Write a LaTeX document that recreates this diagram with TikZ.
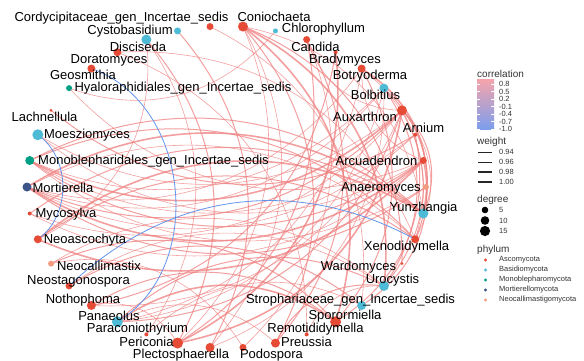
\documentclass[tikz,border=0pt]{standalone}
\usepackage{fontspec}
\setmainfont{Liberation Sans}
\pgfdeclarelayer{bg}
\pgfsetlayers{bg,main}
\definecolor{cAsc}{HTML}{E64B35}
\definecolor{cBas}{HTML}{4DBBD5}
\definecolor{cMon}{HTML}{00A087}
\definecolor{cMor}{HTML}{3C5488}
\definecolor{cNeo}{HTML}{F39B7F}
\definecolor{ePos}{HTML}{F08080}
\definecolor{eNeg}{HTML}{6495ED}
\definecolor{legtxt}{HTML}{333333}
\tikzset{
  dot/.style={circle,inner sep=0pt,draw=none},
  lab/.style={inner sep=0pt,font=\fontsize{13}{13}\selectfont,text=black},
  ltitle/.style={inner sep=0pt,anchor=west,font=\fontsize{10}{10}\selectfont,text=legtxt},
  ltick/.style={inner sep=0pt,anchor=west,font=\fontsize{7.5}{7.5}\selectfont,text=legtxt},
  poslink/.style={draw=ePos,draw opacity=0.75},
  neglink/.style={draw=eNeg,line width=0.8pt},
  ew1/.style={line width=0.6pt},
  ew2/.style={line width=1.0pt},
  ew3/.style={line width=1.6pt},
}
\begin{document}
\begin{tikzpicture}[x=1pt,y=1pt]
\useasboundingbox (0,0) rectangle (584,-360);
% nodes on the ellipse
\foreach \nm/\col/\r [count=\i from 0] in {
 Anae/cNeo/3, Arcu/cAsc/3.5, Arni/cAsc/2, Auxa/cAsc/5, Bolb/cBas/4.5, Botr/cAsc/4,
 Brad/cAsc/2, Cand/cAsc/3.5, Chlo/cBas/2.5, Coni/cAsc/5, Cord/cAsc/3.5, Cyst/cBas/3.5,
 Disc/cBas/5, Dora/cAsc/4, Geos/cAsc/4, Hyal/cMon/3, Lach/cAsc/1.5, Moes/cBas/5.5,
 Mono/cMon/4.5, Mort/cMor/4.5, Myco/cAsc/2, Neoa/cAsc/4, Neoc/cNeo/3, Neos/cAsc/3.5,
 Noth/cAsc/4.5, Pana/cBas/5.5, Para/cAsc/2, Peri/cAsc/5.5, Plec/cAsc/4.5, Podo/cAsc/3.5,
 Preu/cAsc/4.5, Remo/cAsc/2, Spor/cAsc/5.5, Stro/cBas/4.5, Uroc/cBas/5, Ward/cAsc/1.5,
 Xeno/cAsc/4, Yunz/cBas/5}{
  \pgfmathsetmacro\ang{\i*360/38}
  \node[dot,fill=\col,minimum size=2*\r] (\nm) at ({226.5+199.5*cos(\ang)},{-187+161*sin(\ang)}) {};
}
% edges
\begin{pgfonlayer}{bg}
\fill[white] (0,0) rectangle (584,-360);
\foreach \a/\b/\w in {
 Anae/Mono/ew1, Anae/Mort/ew2, Arcu/Mono/ew2, Arcu/Mort/ew3, Arcu/Myco/ew1, Arcu/Neoa/ew3,
 Arcu/Moes/ew1, Arcu/Botr/ew1, Arcu/Stro/ew2, Arcu/Hyal/ew1, Arni/Lach/ew2, Arni/Spor/ew2,
 Arni/Mort/ew1, Arni/Mono/ew1, Auxa/Mono/ew3, Auxa/Mort/ew2, Auxa/Peri/ew3, Auxa/Pana/ew2,
 Auxa/Noth/ew1, Auxa/Yunz/ew2, Auxa/Uroc/ew2, Auxa/Xeno/ew1, Auxa/Cand/ew1, Auxa/Myco/ew1,
 Auxa/Moes/ew1, Bolb/Mono/ew1, Bolb/Uroc/ew2, Bolb/Xeno/ew2, Bolb/Pana/ew1, Bolb/Plec/ew1,
 Bolb/Mort/ew1, Botr/Mort/ew1, Botr/Yunz/ew3, Botr/Spor/ew2, Botr/Xeno/ew1, Botr/Pana/ew1,
 Brad/Peri/ew3, Brad/Noth/ew2, Cand/Peri/ew2, Cand/Preu/ew2, Cand/Podo/ew1, Chlo/Hyal/ew1,
 Coni/Uroc/ew3, Coni/Ward/ew2, Coni/Spor/ew3, Coni/Preu/ew2, Coni/Plec/ew1, Coni/Yunz/ew1,
 Coni/Peri/ew1, Cord/Stro/ew1, Cyst/Plec/ew2, Disc/Peri/ew2, Disc/Para/ew1, Disc/Neoa/ew1,
 Dora/Xeno/ew1, Dora/Remo/ew1, Mono/Yunz/ew2, Mono/Xeno/ew2, Mort/Yunz/ew3, Mort/Xeno/ew1,
 Myco/Yunz/ew2, Neoa/Yunz/ew3, Neoa/Xeno/ew2, Neoc/Uroc/ew1, Neoc/Spor/ew2, Neoc/Podo/ew1,
 Neos/Stro/ew2, Neos/Uroc/ew1, Noth/Spor/ew2, Noth/Peri/ew1, Pana/Spor/ew3, Pana/Uroc/ew2,
 Pana/Preu/ew1, Para/Stro/ew1, Preu/Uroc/ew2, Remo/Uroc/ew1}{
  \draw[poslink,\w] (\a.center) to[bend left=35] (\b.center);
}
\draw[neglink] (Geos.center) to[bend left=65,looseness=1.05] (Pana.center);
\draw[neglink] (Moes.center) to[bend left=55] (Neoa.center);
\draw[neglink] (Neos.center) to[bend left=36] (Xeno.center);
\end{pgfonlayer}
% labels
\node[lab] (lCord) at (121.5,-18) {Cordycipitaceae\_gen\_Incertae\_sedis};
\node[lab] (lConi) at (274,-17) {Coniochaeta};
\node[lab] (lCyst) at (130,-31) {Cystobasidium};
\node[lab] (lChlo) at (323.5,-29) {Chlorophyllum};
\node[lab] (lDisc) at (138,-47) {Disciseda};
\node[lab] (lCand) at (315.5,-47) {Candida};
\node[lab] (lDora) at (109,-60) {Doratomyces};
\node[lab] (lBrad) at (345,-60) {Bradymyces};
\node[lab] (lGeos) at (83,-75) {Geosmithia};
\node[lab] (lBotr) at (370,-76) {Botryoderma};
\node[lab] (lHyal) at (183,-88.5) {Hyaloraphidiales\_gen\_Incertae\_sedis};
\node[lab] (lBolb) at (375.5,-95) {Bolbitius};
\node[lab] (lLach) at (44.5,-117) {Lachnellula};
\node[lab] (lAuxa) at (365,-117) {Auxarthron};
\node[lab] (lArni) at (423.5,-128) {Arnium};
\node[lab] (lMoes) at (87,-135) {Moesziomyces};
\node[lab] (lMono) at (153.5,-161) {Monoblepharidales\_gen\_Incertae\_sedis};
\node[lab] (lArcu) at (376.5,-161) {Arcuadendron};
\node[lab] (lMort) at (63,-188) {Mortierella};
\node[lab] (lAnae) at (381,-188) {Anaeromyces};
\node[lab] (lYunz) at (423.5,-208) {Yunzhangia};
\node[lab] (lMyco) at (66,-214) {Mycosylva};
\node[lab] (lNeoa) at (85,-240) {Neoascochyta};
\node[lab] (lXeno) at (406.5,-247) {Xenodidymella};
\node[lab] (lNeoc) at (99,-266) {Neocallimastix};
\node[lab] (lWard) at (358.5,-267) {Wardomyces};
\node[lab] (lNeos) at (78.5,-281) {Neostagonospora};
\node[lab] (lUroc) at (392.5,-280) {Urocystis};
\node[lab] (lNoth) at (83,-300) {Nothophoma};
\node[lab] (lStro) at (350.5,-300) {Strophariaceae\_gen\_Incertae\_sedis};
\node[lab] (lPana) at (109,-316) {Panaeolus};
\node[lab] (lSpor) at (345,-316) {Sporormiella};
\node[lab] (lPara) at (137.5,-329) {Paraconiothyrium};
\node[lab] (lRemo) at (315.5,-329) {Remotididymella};
\node[lab] (lPeri) at (146.5,-342) {Periconia};
\node[lab] (lPreu) at (306.5,-342) {Preussia};
\node[lab] (lPlec) at (181,-355) {Plectosphaerella};
\node[lab] (lPodo) at (271.5,-355) {Podospora};
% legend: correlation
\node[ltitle] (tCorr) at (477,-74) {correlation};
\node[inner sep=0pt,anchor=north west,minimum width=17,minimum height=50,
  top color={rgb,255:red,244;green,164;blue,172},
  middle color={rgb,255:red,196;green,166;blue,214},
  bottom color={rgb,255:red,122;green,158;blue,238}] (cbar) at (477,-79.5) {};
\foreach \v/\y in {0.8/84,0.5/91.5,0.2/99,-0.1/106.5,-0.4/114,-0.7/121.5,-1.0/129}{
  \draw[white,line width=0.5pt] (477,-\y) -- (480,-\y) (491,-\y) -- (494,-\y);
  \node[ltick] at (499,-\y) {\v};
}
% legend: weight
\node[ltitle] (tWeight) at (477,-142) {weight};
\foreach \v/\y/\lw in {0.94/152/0.6,0.96/162/0.9,0.98/172/1.2,1.00/182/1.5}{
  \draw[black!85,line width=\lw pt] (478,-\y) -- (492,-\y);
  \node[ltick] at (499,-\y) {\v};
}
% legend: degree
\node[ltitle] (tDeg) at (477,-200) {degree};
\foreach \v/\y/\r in {5/210/3.3,10/220.5/4.3,15/231/5.1}{
  \node[dot,fill=black,minimum size=2*\r] at (485,-\y) {};
  \node[ltick] at (499,-\y) {\v};
}
% legend: phylum
\node[ltitle] (tPhy) at (477,-250) {phylum};
\foreach \c/\t/\y in {cAsc/Ascomycota/260,cBas/Basidiomycota/270,cMon/Monoblepharomycota/280,cMor/Mortierellomycota/290,cNeo/Neocallimastigomycota/300}{
  \node[dot,fill=\c,minimum size=3.4] at (485.5,-\y) {};
  \node[ltick] at (499,-\y) {\t};
}
\end{tikzpicture}
\end{document}
